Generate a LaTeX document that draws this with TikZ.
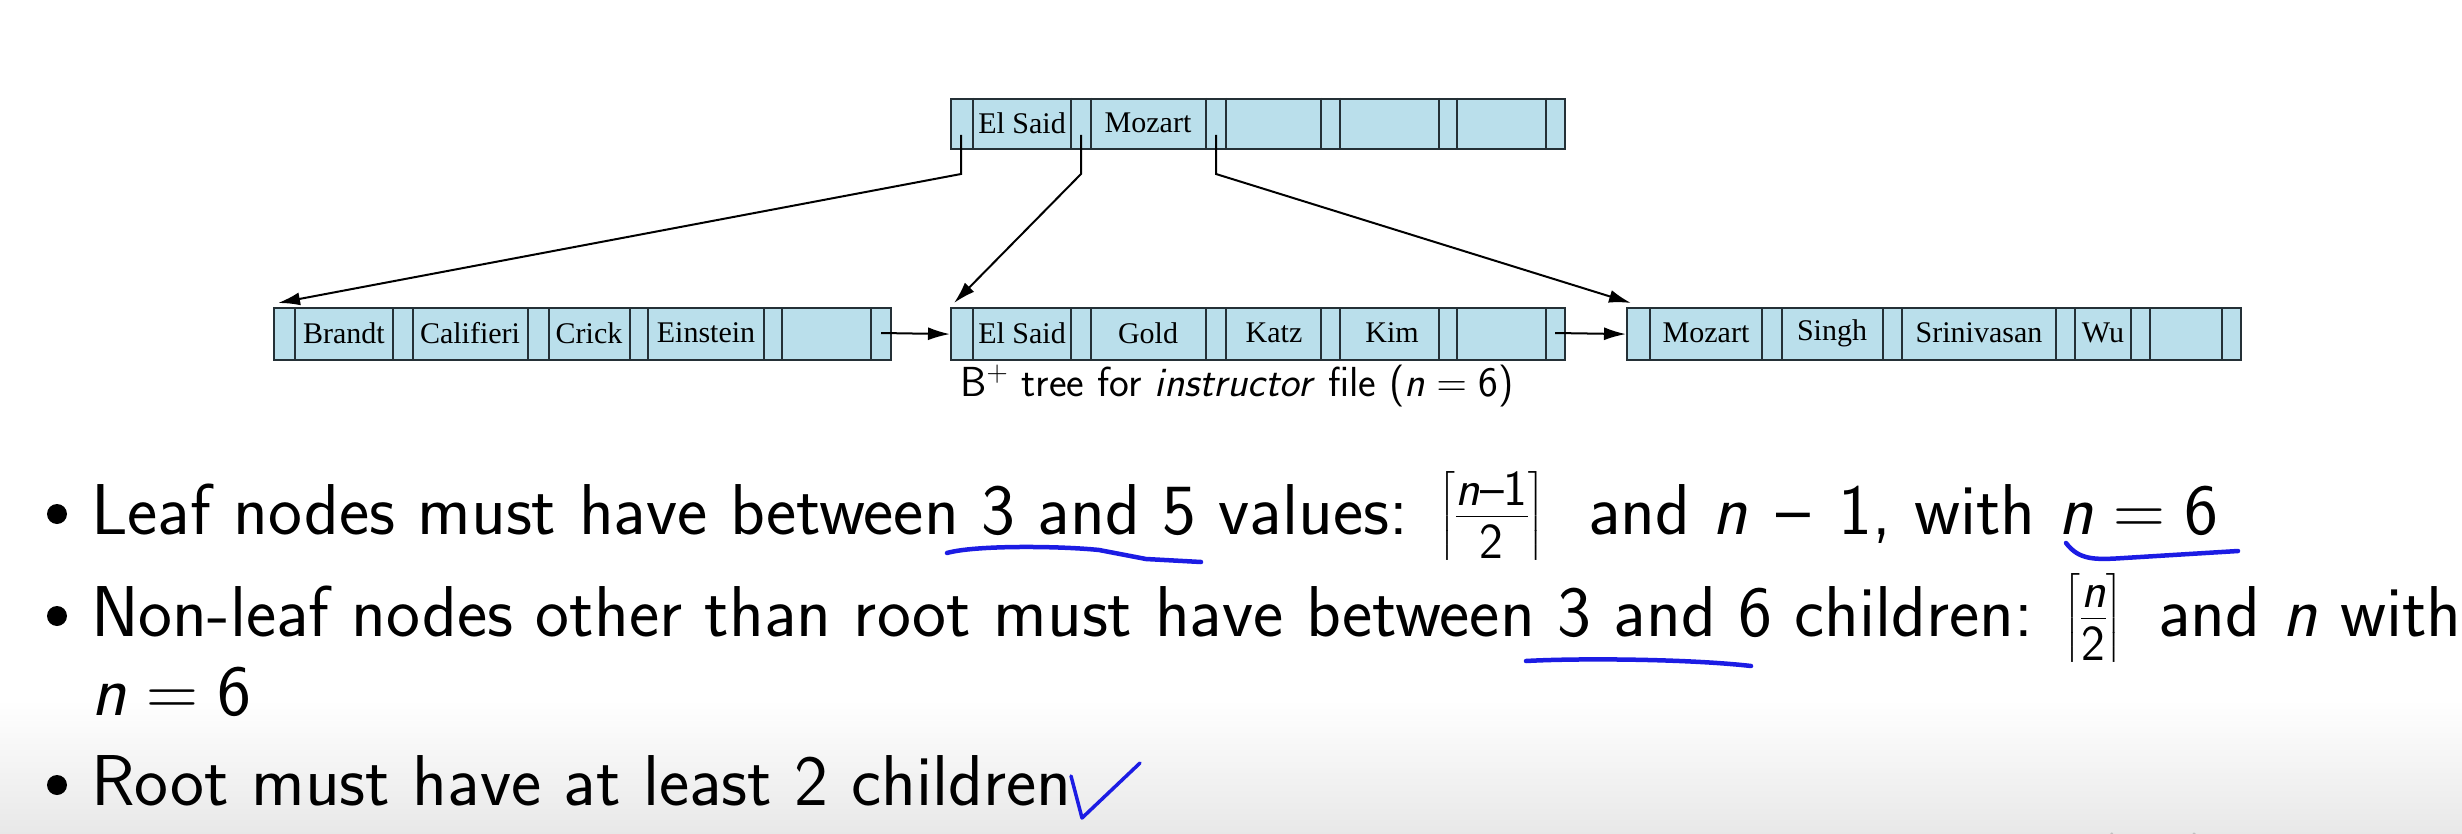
\RequirePackage{fix-cm}
\documentclass[tikz,border=0pt]{standalone}
\usepackage{amsmath}
\usepackage{fontspec}
\setmainfont{Liberation Serif}
\usepackage{tikz}
\usetikzlibrary{arrows, arrows.meta, positioning}
\definecolor{cellblue}{RGB}{186,223,235}
\definecolor{celledge}{RGB}{36,48,54}
\definecolor{penblue}{RGB}{28,28,228}
\tikzstyle{bnode}=[draw=celledge, fill=cellblue, line width=2.2pt, rectangle, inner sep=0pt, anchor=north west]
\tikzstyle{sep}=[draw=celledge, line width=2.6pt]
\tikzstyle{key}=[font=\fontsize{30}{32}\selectfont, text=black, inner sep=0pt]
\tikzstyle{line}=[draw, line width=2pt, -{Latex[length=22pt, width=13pt]}]
\tikzstyle{item}=[font=\fontsize{72}{86}\selectfont\sffamily, anchor=base west, inner sep=0pt]
\tikzstyle{dot}=[circle, fill=black, minimum size=20pt, inner sep=0pt]
\tikzstyle{pen}=[draw=penblue, line width=4.5pt, line cap=round, line join=round]
\newcommand{\sn}{\text{\itshape n}}
\newcommand{\smin}{\hspace{0.4em}\text{–}\hspace{0.4em}}

\begin{document}
\begin{tikzpicture}[x=1pt, y=-1pt]
		\useasboundingbox[fill=white] (0,0) rectangle (2462,834);
		\shade[top color=white, bottom color=black!9] (0,700) rectangle (2462,834);
		\draw[black!25, line width=5pt] (2110,834) arc[start angle=140, end angle=40, radius=56];
		% root node
		\node[bnode, minimum width=614pt, minimum height=50pt] (root) at (950,98) {};
		\foreach \d in {23,121,141,256,276,371,390,489,507,596}
			\draw[sep] ([xshift=\d pt]root.north west) -- ([xshift=\d pt]root.south west);
		\node[key] (r1) at (1022,123) {El Said};
		\node[key] (r2) at (1148,123) {Mozart};
		\coordinate (p1) at (961,135);
		\coordinate (p2) at (1081,135);
		\coordinate (p3) at (1216,135);
		% leaf nodes
		\node[bnode, minimum width=617pt, minimum height=52pt] (leafA) at (273,307) {};
		\foreach \d in {22,120,140,255,276,357,375,491,509,598}
			\draw[sep] ([xshift=\d pt]leafA.north west) -- ([xshift=\d pt]leafA.south west);
		\node[key] (a1) at (344,333) {Brandt};
		\node[key] (a2) at (470,333) {Califieri};
		\node[key] (a3) at (589,333) {Crick};
		\node[key] (a4) at (706,333) {Einstein};
		\coordinate (na) at (881,333);
		\node[bnode, minimum width=614pt, minimum height=52pt] (leafB) at (950,307) {};
		\foreach \d in {23,121,141,256,276,371,390,489,507,596}
			\draw[sep] ([xshift=\d pt]leafB.north west) -- ([xshift=\d pt]leafB.south west);
		\node[key] (b1) at (1022,333) {El Said};
		\node[key] (b2) at (1148,333) {Gold};
		\node[key] (b3) at (1274,333) {Katz};
		\node[key] (b4) at (1392,333) {Kim};
		\coordinate (nb) at (1555,333);
		\node[bnode, minimum width=614pt, minimum height=52pt] (leafC) at (1626,307) {};
		\foreach \d in {24,136,156,257,276,430,449,505,524,596}
			\draw[sep] ([xshift=\d pt]leafC.north west) -- ([xshift=\d pt]leafC.south west);
		\node[key] (c1) at (1706,333) {Mozart};
		\node[key] (c2) at (1832,333) {Singh};
		\node[key] (c3) at (1979,333) {Srinivasan};
		\node[key] (c4) at (2103,333) {Wu};
		% pointers
		\draw[line] (p1) -- ++(0,39) -- ([shift={(5,-4)}]leafA.north west);
		\draw[line] (p2) -- ++(0,39) -- ([shift={(4,-4)}]leafB.north west);
		\draw[line] (p3) -- ++(0,39) -- ([shift={(5,-4)}]leafC.north west);
		\draw[line] (na) -- (leafB.west);
		\draw[line] (nb) -- (leafC.west);
		\node[font=\fontsize{42}{44}\selectfont\sffamily] (cap) at (1237,386) {B$^{+}$ tree for \textit{instructor} file ($\sn = \text{6}$)};
		% rules
		\node[dot] (d1) at (57,514) {};
		\node[item] (t1) at (91,534) {Leaf nodes must have between 3 and 5 values: $\left\lceil\frac{\sn\text{–}\text{1}}{\text{2}}\right\rceil$\hspace{20pt} and $\sn\smin\text{1}$, with $\sn=\text{6}$};
		\node[dot] (d2) at (57,616) {};
		\node[item] (t2) at (91,636) {Non-leaf nodes other than root must have between 3 and 6 children: $\left\lceil\frac{\sn}{\text{2}}\right\rceil$\hspace{12pt} and $\sn$ with};
		\node[item] (t2b) at (91,715) {$\sn=\text{6}$};
		\node[dot] (d3) at (57,785) {};
		\node[item] (t3) at (91,805) {Root must have at least 2 children};
		% pen marks
		\draw[pen] (947,553) .. controls (975,545) and (1060,546) .. (1099,550) -- (1146,559) -- (1201,562);
		\draw[pen] (2066,543) .. controls (2079,560) and (2094,560) .. (2124,558) -- (2238,551);
		\draw[pen] (1526,661) .. controls (1580,658) and (1690,659) .. (1751,666);
		\draw[pen, line width=3.5pt] (1071,776) -- (1082,818) -- (1140,763);
\end{tikzpicture}
\end{document}
